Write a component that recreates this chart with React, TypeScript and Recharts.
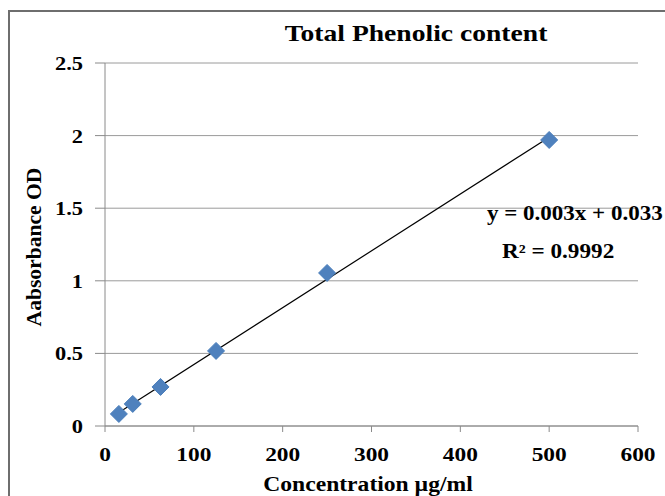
import React from "react";
import {
  ScatterChart,
  Scatter,
  XAxis,
  YAxis,
  CartesianGrid,
  ReferenceLine,
  Customized,
} from "recharts";

const concentrations = [15.625, 31.25, 62.5, 125, 250, 500];
const absorbances = [0.083, 0.152, 0.269, 0.517, 1.054, 1.97];
const xTicks = [0, 100, 200, 300, 400, 500, 600];
const yTicks = [0, 0.5, 1, 1.5, 2, 2.5];
const titleText = "Total Phenolic content";
const xLabelText = "Concentration µg/ml";
const yLabelText = "Aabsorbance OD";
const equationText = "y = 0.003x + 0.033";
const r2Text = "R² = 0.9992";

const data = concentrations.map((x, i) => ({ x, y: absorbances[i] }));

// least-squares trendline through the data
const n = data.length;
const mx = concentrations.reduce((a, b) => a + b, 0) / n;
const my = absorbances.reduce((a, b) => a + b, 0) / n;
let sxy = 0;
let sxx = 0;
data.forEach((d) => {
  sxy += (d.x - mx) * (d.y - my);
  sxx += (d.x - mx) * (d.x - mx);
});
const slope = sxy / sxx;
const intercept = my - slope * mx;
const fit = (x: number) => slope * x + intercept;
const xMin = Math.min(...concentrations);
const xMax = Math.max(...concentrations);

const FONT = "'Liberation Serif', 'Times New Roman', serif";

const Diamond = (props: any) => {
  const { cx, cy } = props;
  const r = 8.5;
  return (
    <polygon
      points={`${cx},${cy - r} ${cx + r},${cy} ${cx},${cy + r} ${cx - r},${cy}`}
      fill="#4F81BD"
      stroke="#4A7EBB"
      strokeWidth={1}
    />
  );
};

const SText = ({ x, y, s, size, anchor, rotate, children }: any) => (
  <text
    x={0}
    y={0}
    textAnchor={anchor || "start"}
    fontFamily={FONT}
    fontWeight="bold"
    fontSize={size}
    fill="#000"
    transform={`translate(${x},${y})${rotate ? ` rotate(${rotate})` : ""} scale(${s},1)`}
  >
    {children}
  </text>
);

const XTick = (props: any) => {
  const { x, y, payload } = props;
  return (
    <SText x={x} y={y + 29} s={1.2} size={19.5} anchor="middle">
      {payload.value}
    </SText>
  );
};

const YTick = (props: any) => {
  const { x, y, payload } = props;
  return (
    <SText x={x} y={y + 7} s={1.15} size={19.5} anchor="end">
      {payload.value}
    </SText>
  );
};

const Overlay = () => (
  <g>
    <SText x={416} y={41} s={1.15} size={24} anchor="middle">
      {titleText}
    </SText>
    <SText x={487} y={220} s={1.15} size={20}>
      {equationText}
    </SText>
    <SText x={502} y={258} s={1.16} size={20}>
      {r2Text}
    </SText>
    <SText x={368} y={491} s={1.18} size={20} anchor="middle">
      {xLabelText}
    </SText>
    <SText x={41} y={247} s={1.08} size={20} anchor="middle" rotate={-90}>
      {yLabelText}
    </SText>
  </g>
);

export default function App() {
  return (
    <div style={{ position: "absolute", left: 0, top: 0, width: 665, height: 496, background: "#fff", overflow: "hidden" }}>
      <div
        style={{
          position: "absolute",
          left: 8,
          top: 10,
          width: 700,
          height: 520,
          border: "2px solid #6e6e6e",
          boxSizing: "border-box",
        }}
      />
      <div style={{ position: "absolute", left: 0, top: 0 }}>
        <ScatterChart
          width={665}
          height={496}
          margin={{ top: 63, right: 27, bottom: 30, left: 45 }}
        >
          <CartesianGrid vertical={false} stroke="#9a9a9a" strokeWidth={1} />
          <XAxis
            type="number"
            dataKey="x"
            domain={[0, 600]}
            ticks={xTicks}
            interval={0}
            height={40}
            stroke="#8a8a8a"
            tickSize={6}
            tickMargin={0}
            tick={<XTick />}
          />
          <YAxis
            type="number"
            dataKey="y"
            domain={[0, 2.5]}
            ticks={yTicks}
            interval={0}
            width={60}
            stroke="#8a8a8a"
            tickSize={10}
            tickMargin={12}
            tick={<YTick />}
          />
          <ReferenceLine
            segment={[
              { x: xMin, y: fit(xMin) },
              { x: xMax, y: fit(xMax) },
            ]}
            stroke="#000"
            strokeWidth={1.2}
            ifOverflow="visible"
          />
          <Scatter data={data} shape={<Diamond />} isAnimationActive={false} />
          <Customized component={Overlay} />
        </ScatterChart>
      </div>
    </div>
  );
}
